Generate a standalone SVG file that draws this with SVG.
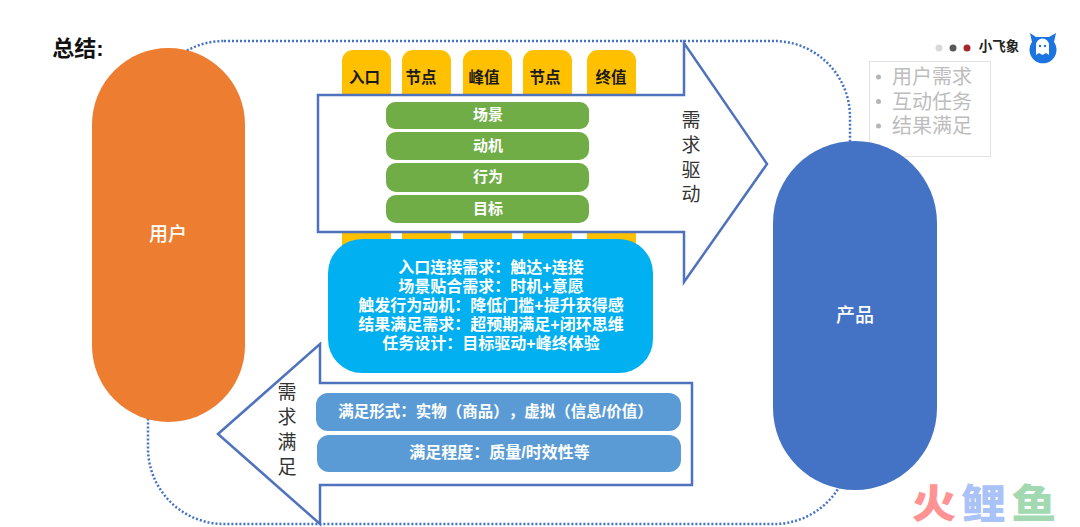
<svg xmlns="http://www.w3.org/2000/svg" width="1080" height="527" viewBox="0 0 1080 527">
<style>
text{font-family:"Liberation Sans","Noto Sans CJK SC",sans-serif;text-anchor:middle;text-spacing-trim:space-all}
.tab{fill:#ffc000}
.tabt{font-size:15.500px;font-weight:700;fill:#1a1a1a}
.gr{fill:#70ad47}
.w{fill:#fff;font-weight:700;font-size:15px}
.lb{fill:#5b9bd5}
.arrow{fill:#fff;stroke:#4f72bd;stroke-width:2.500}
.v{font-size:19px;fill:#333}
.blue{font-size:16px;font-weight:700;fill:#fff}
.g{font-size:20px;fill:#bdbdbd}
.dot{fill:#b5b5b5}
.wm{font-size:40px;font-weight:900}
</style>
<rect width="1080" height="527" fill="#fff"/>
<g id="connectors">
<rect id="loop" x="148" y="41" width="702" height="483" rx="76" ry="76" fill="none" stroke="#4472c4" stroke-width="2.500" stroke-dasharray="2 2"/>
</g>
<text id="title" x="78" y="56" style="font-size:22px;font-weight:700;fill:#111">总结:</text>
<g id="notes">
<rect x="869.500" y="61.500" width="121" height="95" fill="none" stroke="#e3e3e3"/>
<circle class="dot" cx="878.500" cy="77" r="2.500"/><circle class="dot" cx="878.500" cy="101.500" r="2.500"/><circle class="dot" cx="878.500" cy="126" r="2.500"/>
<text class="g"><tspan x="932" y="84">用户需求</tspan><tspan x="932" y="109">互动任务</tspan><tspan x="932" y="133">结果满足</tspan></text>
</g>
<g id="user"><rect x="92" y="48" width="153" height="374" rx="76.500" fill="#ed7d31"/><text x="168" y="241" style="font-size:19px;font-weight:500;fill:#fff">用户</text></g>
<g id="product"><rect x="773" y="141" width="164" height="349" rx="82" fill="#4472c4"/><text x="855" y="322" style="font-size:19px;font-weight:500;fill:#fff">产品</text></g>
<g id="tabs-bottom">
<rect class="tab" x="342" y="225" width="49" height="25"/><rect class="tab" x="402" y="225" width="49" height="25"/><rect class="tab" x="463" y="225" width="49" height="25"/><rect class="tab" x="523" y="225" width="49" height="25"/><rect class="tab" x="587" y="225" width="49" height="25"/>
</g>
<g id="tabs-top">
<rect class="tab" x="342" y="50" width="49" height="60" rx="11"/><rect class="tab" x="402" y="50" width="49" height="60" rx="11"/><rect class="tab" x="463" y="50" width="49" height="60" rx="11"/><rect class="tab" x="523" y="50" width="49" height="60" rx="11"/><rect class="tab" x="587" y="50" width="49" height="60" rx="11"/>
</g>
<g id="arrow-drive">
<path class="arrow" d="M318 95H684V43L767 164L684 282V232H318Z"/>
<text class="v"><tspan x="691" y="127">需</tspan><tspan x="691" y="152">求</tspan><tspan x="691" y="177">驱</tspan><tspan x="691" y="201">动</tspan></text>
</g>
<g id="tab-labels">
<text class="tabt" x="364.500" y="83">入口</text><text class="tabt" x="421" y="83">节点</text><text class="tabt" x="484" y="83">峰值</text><text class="tabt" x="545" y="83">节点</text><text class="tabt" x="611" y="83">终值</text>
</g>
<g id="bar-scene"><rect class="gr" x="386" y="102" width="203" height="27" rx="9"/><text class="w" x="488" y="120">场景</text></g>
<g id="bar-motive"><rect class="gr" x="386" y="132" width="203" height="28" rx="10"/><text class="w" x="488" y="151">动机</text></g>
<g id="bar-action"><rect class="gr" x="386" y="163" width="203" height="29" rx="10"/><text class="w" x="488" y="182">行为</text></g>
<g id="bar-goal"><rect class="gr" x="386" y="195" width="203" height="28" rx="10"/><text class="w" x="488" y="214">目标</text></g>
<g id="arrow-satisfy">
<path class="arrow" d="M218 434L320 344V383H692V485H320V524Z"/>
<text class="v"><tspan x="287" y="399">需</tspan><tspan x="287" y="424">求</tspan><tspan x="287" y="449">满</tspan><tspan x="287" y="474">足</tspan></text>
</g>
<g id="summary">
<rect x="328" y="239" width="325" height="134" rx="34" fill="#00b0f0"/>
<text class="blue"><tspan x="491" y="273">入口连接需求：触达+连接</tspan><tspan x="491" y="292">场景贴合需求：时机+意愿</tspan><tspan x="491" y="311">触发行为动机：降低门槛+提升获得感</tspan><tspan x="491" y="330">结果满足需求：超预期满足+闭环思维</tspan><tspan x="491" y="349">任务设计：目标驱动+峰终体验</tspan></text>
</g>
<g id="bar-form"><rect class="lb" x="316" y="393" width="365" height="38" rx="12"/><text class="w" x="495.500" y="417" style="font-size:15.500px">满足形式：实物（商品），虚拟（信息/价值）</text></g>
<g id="bar-degree"><rect class="lb" x="317" y="435" width="364" height="37" rx="12"/><text class="w" x="499.500" y="458" style="font-size:16px">满足程度：质量/时效性等</text></g>
<g id="brand">
<circle cx="939" cy="48" r="3.500" fill="#d9d9d9"/><circle cx="953" cy="48" r="3.500" fill="#595959"/><circle cx="967" cy="48" r="3.500" fill="#a6262e"/>
<text x="999" y="51" style="font-size:13.500px;font-weight:700;fill:#222">小飞象</text>
<path d="M1030 33L1036 37H1049L1056 33L1054 42A13.500 13.500 0 1 1 1032 42Z" fill="#1c74e0"/>
<path d="M1036 55V45A6.500 6.500 0 0 1 1049 45V55L1046 53L1042.500 55L1039 53Z" fill="#fff"/>
<circle cx="1040" cy="46" r="1.200" fill="#1c74e0"/><circle cx="1045" cy="46" r="1.200" fill="#1c74e0"/>
</g>
<g id="watermark">
<text class="wm" transform="translate(934 518) scale(1.120 1)" fill="#ff9393">火</text>
<text class="wm" transform="translate(983.500 518) scale(1.120 1)" fill="#a9c2f7">鲤</text>
<text class="wm" transform="translate(1034 518) scale(1.120 1)" fill="#a3d9b1">鱼</text>
</g>
</svg>
